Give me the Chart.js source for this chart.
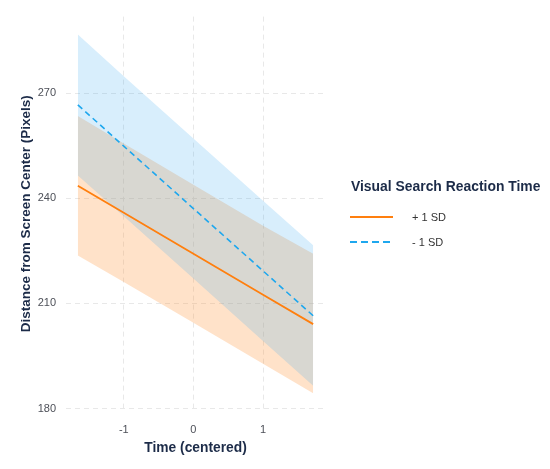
<!DOCTYPE html>
<html>
<head>
<meta charset="utf-8">
<script src="https://cdn.jsdelivr.net/npm/chart.js@4"></script>
<style>
  html, body { margin: 0; padding: 0; background: #ffffff; }
  #wrap { width: 550px; height: 469px; position: relative; }
</style>
</head>
<body>
<div id="wrap"><canvas id="c" width="550" height="469"></canvas></div>
<script>
// ---- data ----
const timeValues = [-1.66, -1, 0, 1, 1.72];
const plusSD      = [243.6, 235.9, 224.2, 212.5, 204.1];
const plusSDUpper = [263.5, 255.7, 243.9, 232.2, 224.2];
const plusSDLower = [223.7, 216.1, 204.5, 192.8, 184.4];
const minusSD      = [266.7, 254.9, 237.1, 219.3, 206.5];
const minusSDUpper = [286.8, 274.9, 257.1, 239.3, 226.6];
const minusSDLower = [246.5, 234.9, 217.1, 199.3, 186.5];
const seriesNames = ['+ 1 SD', '- 1 SD'];
const legendTitle = 'Visual Search Reaction Time';
const xTicks = [-1, 0, 1];
const yTicks = [180, 210, 240, 270];
const xTitle = 'Time (centered)';
const yTitle = 'Distance from Screen Center (Pixels)';

const pts = (ys) => timeValues.map((x, i) => ({x: x, y: ys[i]}));

const ORANGE = '#ff7f0e';
const BLUE = '#1ea7ee';
const FONT = "'Liberation Sans', Arial, sans-serif";
const TITLE_COLOR = '#1c2b48';
const TICK_COLOR = '#4d5058';

const legendPlugin = {
  id: 'customLegend',
  afterDraw(chart) {
    const ctx = chart.ctx;
    ctx.save();
    ctx.fillStyle = TITLE_COLOR;
    ctx.font = "bold 13.9px " + FONT;
    ctx.textBaseline = 'middle';
    ctx.textAlign = 'left';
    ctx.fillText(legendTitle, 351, 187);
    const items = [
      {label: seriesNames[0], color: ORANGE, dash: [], y: 217},
      {label: seriesNames[1], color: BLUE, dash: [7, 4], y: 242}
    ];
    items.forEach(it => {
      ctx.beginPath();
      ctx.setLineDash(it.dash);
      ctx.strokeStyle = it.color;
      ctx.lineWidth = 2;
      ctx.moveTo(350, it.y);
      ctx.lineTo(393, it.y);
      ctx.stroke();
      ctx.setLineDash([]);
      ctx.fillStyle = '#333333';
      ctx.font = "11px " + FONT;
      ctx.fillText(it.label, 412, it.y + 0.5);
    });
    ctx.restore();
  }
};

new Chart(document.getElementById('c'), {
  type: 'line',
  data: {
    datasets: [
      { label: seriesNames[1], data: pts(minusSD), borderColor: BLUE, borderWidth: 1.6, borderDash: [6, 4], pointRadius: 0, fill: false, tension: 0 },
      { label: seriesNames[0], data: pts(plusSD), borderColor: ORANGE, borderWidth: 1.8, pointRadius: 0, fill: false, tension: 0 },
      { label: 'minusUpper', data: pts(minusSDUpper), borderWidth: 0, borderColor: 'rgba(0,0,0,0)', pointRadius: 0, backgroundColor: 'rgba(60,170,240,0.2)', fill: {target: '+1'} },
      { label: 'minusLower', data: pts(minusSDLower), borderWidth: 0, borderColor: 'rgba(0,0,0,0)', pointRadius: 0, fill: false },
      { label: 'plusUpper', data: pts(plusSDUpper), borderWidth: 0, borderColor: 'rgba(0,0,0,0)', pointRadius: 0, backgroundColor: 'rgba(255,140,40,0.25)', fill: {target: '+1'} },
      { label: 'plusLower', data: pts(plusSDLower), borderWidth: 0, borderColor: 'rgba(0,0,0,0)', pointRadius: 0, fill: false }
    ]
  },
  options: {
    responsive: false,
    animation: false,
    devicePixelRatio: 1,
    layout: { padding: { top: 15, right: 225, left: 0, bottom: 0 } },
    plugins: { legend: { display: false }, tooltip: { enabled: false } },
    scales: {
      x: {
        type: 'linear',
        min: -1.83, max: 1.89,
        afterBuildTicks: (s) => { s.ticks = xTicks.map(v => ({value: v})); },
        afterFit: (s) => { s.height = 58; },
        grid: { color: '#e8e8e8', lineWidth: 1, drawTicks: false },
        border: { display: false, dash: [5, 4] },
        ticks: { color: TICK_COLOR, font: { family: FONT, size: 11 }, padding: 12 },
        title: { display: true, text: xTitle, color: TITLE_COLOR, font: { family: FONT, size: 13.8, weight: 'bold' }, padding: { top: 0, bottom: 13 } }
      },
      y: {
        type: 'linear',
        min: 179.3, max: 291.9,
        afterBuildTicks: (s) => { s.ticks = yTicks.map(v => ({value: v})); },
        afterFit: (s) => { s.width = 66; },
        grid: { color: '#e8e8e8', lineWidth: 1, drawTicks: false },
        border: { display: false, dash: [5, 4] },
        ticks: { color: TICK_COLOR, font: { family: FONT, size: 11 }, padding: 10 },
        title: { display: true, text: yTitle, color: TITLE_COLOR, font: { family: FONT, size: 13.5, weight: 'bold' }, padding: { top: 18, bottom: 0 } }
      }
    }
  },
  plugins: [legendPlugin]
});
</script>
</body>
</html>
